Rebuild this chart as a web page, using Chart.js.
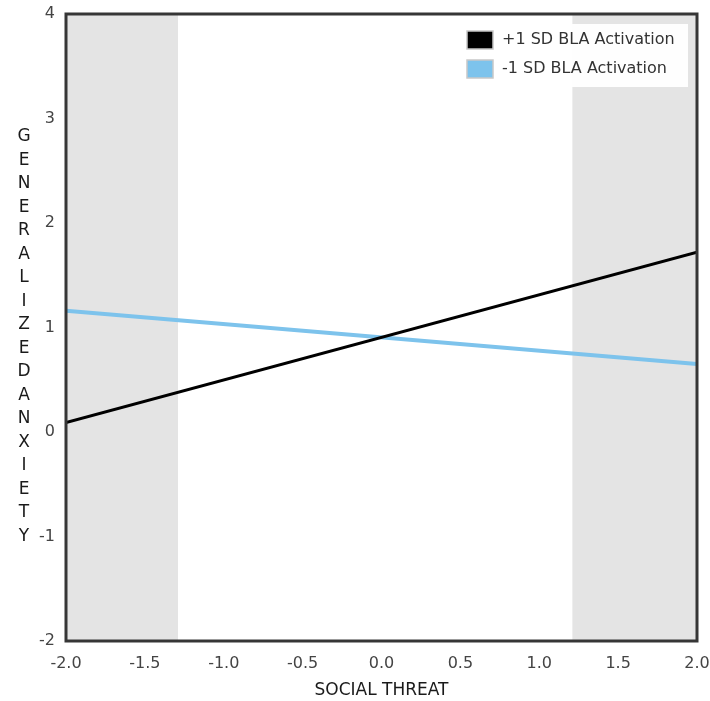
<!DOCTYPE html>
<html>
<head>
<meta charset="utf-8">
<script src="https://cdn.jsdelivr.net/npm/chart.js@4.4.1/dist/chart.umd.min.js"></script>
<style>
  html, body { margin: 0; padding: 0; background: #ffffff; }
  #wrap { position: relative; width: 710px; height: 701px; }
</style>
</head>
<body>
<div id="wrap"><canvas id="c" width="710" height="701"></canvas></div>
<script>
// ---- data ----
const threatX = [-2, 2];
const highBLA = [0.09, 1.72];   // +1 SD BLA Activation
const lowBLA  = [1.16, 0.65];   // -1 SD BLA Activation
const seriesLabels = ['+1 SD BLA Activation', '-1 SD BLA Activation'];
const shadedRegions = [[-2, -1.29], [1.21, 2]];
const yTitle = 'GENERALIZEDANXIETY';
const xTitle = 'SOCIAL THREAT';
const xRange = [-2, 2];
const yRange = [-2, 4];

const FONT = "'DejaVu Sans', Verdana, sans-serif";
const colors = ['#000000', '#7dc3ec'];

const toPoints = (xs, ys) => xs.map((x, i) => ({ x: x, y: ys[i] }));

const shadePlugin = {
  id: 'shade',
  beforeDatasetsDraw(chart) {
    const { ctx, chartArea, scales } = chart;
    ctx.save();
    ctx.fillStyle = '#e4e4e4';
    shadedRegions.forEach(([a, b]) => {
      const x1 = scales.x.getPixelForValue(a);
      const x2 = scales.x.getPixelForValue(b);
      ctx.fillRect(x1, chartArea.top, x2 - x1, chartArea.bottom - chartArea.top);
    });
    ctx.restore();
  }
};

const framePlugin = {
  id: 'frame',
  afterDatasetsDraw(chart) {
    const { ctx, chartArea } = chart;
    ctx.save();
    // legend box
    const lx = 456, ly = 24, lw = 232, lh = 63;
    ctx.fillStyle = 'rgba(255,255,255,0.95)';
    ctx.fillRect(lx, ly, lw, lh);
    ctx.font = '16px ' + FONT;
    ctx.textBaseline = 'middle';
    chart.data.datasets.forEach((ds, i) => {
      const cy = ly + 16 + i * 29;
      ctx.fillStyle = ds.borderColor;
      ctx.fillRect(467, cy - 9, 26, 18);
      ctx.strokeStyle = '#c8c8c8';
      ctx.lineWidth = 1.5;
      ctx.strokeRect(467, cy - 9, 26, 18);
      ctx.fillStyle = '#333333';
      ctx.fillText(ds.label, 502, cy);
    });
    // frame
    ctx.strokeStyle = '#363636';
    ctx.lineWidth = 3;
    ctx.strokeRect(chartArea.left, chartArea.top, chartArea.right - chartArea.left, chartArea.bottom - chartArea.top);
    // y title stacked letters
    ctx.fillStyle = '#1a1a1a';
    ctx.font = '17px ' + FONT;
    ctx.textAlign = 'center';
    ctx.textBaseline = 'middle';
    const letters = yTitle.split('');
    const step = 23.5;
    const mid = (chartArea.top + chartArea.bottom) / 2 + 9;
    const start = mid - step * (letters.length - 1) / 2;
    letters.forEach((ch, i) => ctx.fillText(ch, 24, start + i * step));
    ctx.restore();
  }
};

new Chart(document.getElementById('c'), {
  type: 'line',
  data: {
    datasets: [
      { label: seriesLabels[0], data: toPoints(threatX, highBLA), borderColor: colors[0], backgroundColor: colors[0], borderWidth: 3, pointRadius: 0, fill: false },
      { label: seriesLabels[1], data: toPoints(threatX, lowBLA), borderColor: colors[1], backgroundColor: colors[1], borderWidth: 4, pointRadius: 0, fill: false }
    ]
  },
  options: {
    responsive: false,
    animation: false,
    layout: { padding: { left: 0, right: 13, top: 14, bottom: 0 } },
    plugins: { legend: { display: false }, tooltip: { enabled: false } },
    scales: {
      x: {
        type: 'linear', min: xRange[0], max: xRange[1],
        grid: { display: false, drawTicks: false },
        border: { display: false },
        ticks: { stepSize: 0.5, padding: 13, color: '#444444', font: { family: FONT, size: 16 }, maxRotation: 0,
                 callback: v => Number(v).toFixed(1) },
        title: { display: true, text: xTitle, color: '#1a1a1a', font: { family: FONT, size: 17 }, padding: { top: 6, bottom: 0 } },
        afterFit: s => { s.height = 60; s.paddingLeft = 0; s.paddingRight = 0; }
      },
      y: {
        type: 'linear', min: yRange[0], max: yRange[1],
        grid: { display: false, drawTicks: false },
        border: { display: false },
        ticks: { stepSize: 1, padding: 11, color: '#444444', font: { family: FONT, size: 16 } },
        afterFit: s => { s.width = 66; s.paddingTop = 0; s.paddingBottom = 0; }
      }
    }
  },
  plugins: [shadePlugin, framePlugin]
});
</script>
</body>
</html>
